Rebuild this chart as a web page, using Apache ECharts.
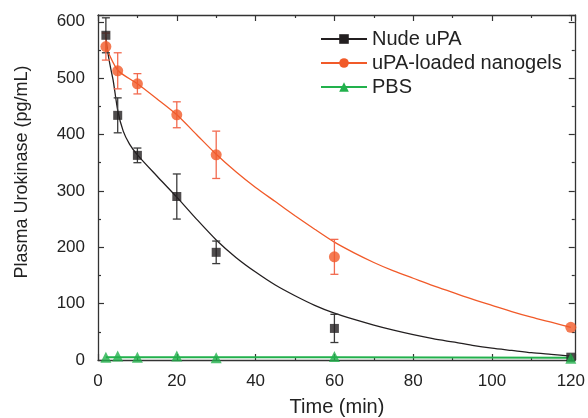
<!DOCTYPE html>
<html>
<head>
<meta charset="utf-8">
<script src="https://cdn.jsdelivr.net/npm/echarts@6/dist/echarts.min.js"></script>
<style>html,body{margin:0;padding:0;background:#fff;}#c{width:588px;height:418px;}</style>
</head>
<body>
<div id="c"></div>
<script>
// Measured points: [time, mean, error]
var nudePoints = [[2,576,31],[5,434,31],[10,363,13],[20,290,40],[30,191,20],[60,56,25],[120,5,0]];
var nanogelPoints = [[2,556,24],[5,513,32],[10,490,18],[20,435,23],[30,364,42],[60,183,31],[120,58,0]];
var pbsPoints = [[2,5],[5,7],[10,5],[20,7],[30,4],[60,6],[120,3]];
// Fitted curves
var nudeFit = [[2,572],[2.6,541],[3.2,518],[3.9,494],[5,443],[6.4,406],[8,383],[10,364],[15,326],[20,289],[25,250],[30,213],[35,182],[40,156],[45,133],[50,114],[55,97],[60,83],[65,72],[70,62],[75,53],[80,45],[85,38],[90,32],[95,26],[100,21],[105,17],[110,13],[115,10],[120,7]];
var nanogelFit = [[2,556],[5,514],[10,490],[15,463],[20,435],[25,400],[30,365],[35,334],[40,306],[45,281],[50,256],[55,232],[60,209],[65,190],[70,173],[75,158],[80,145],[85,132],[90,120],[95,108],[100,97],[105,86],[110,76],[115,67],[120,58]];
var pbsFit = [[2,5],[30,5],[60,5],[120,4]];
var seriesNames = ['Nude uPA','uPA-loaded nanogels','PBS'];
var xTicks = [0,20,40,60,80,100,120];
var yTicks = [0,100,200,300,400,500,600];
var xTitle = 'Time (min)';
var yTitle = 'Plasma Urokinase (pg/mL)';

var BLACK = '#231f20', ORANGE = '#f15a29', GREEN = '#22b14c';
var FONT = '"Liberation Sans", Arial, sans-serif';

function errRender(color){
  return function(params, api){
    var x = api.value(0), m = api.value(1), e = api.value(2);
    if (!e) return null;
    var top = api.coord([x, m + e]);
    var bot = api.coord([x, m - e]);
    var hw = 4;
    var st = {stroke: color, lineWidth: 1.3};
    return {type:'group', children:[
      {type:'line', shape:{x1:top[0],y1:top[1],x2:bot[0],y2:bot[1]}, style:st},
      {type:'line', shape:{x1:top[0]-hw,y1:top[1],x2:top[0]+hw,y2:top[1]}, style:st},
      {type:'line', shape:{x1:bot[0]-hw,y1:bot[1],x2:bot[0]+hw,y2:bot[1]}, style:st}
    ]};
  };
}

var labelFont = {fontFamily:FONT, fontSize:17, color:'#222'};
function axisBase(){
  return {
    axisLine:{show:true, onZero:false, lineStyle:{color:'#333', width:1.3}},
    axisTick:{show:true, inside:true, length:6, lineStyle:{color:'#333', width:1.2}},
    minorTick:{show:true, splitNumber:2, length:3, lineStyle:{color:'#333', width:1.2}},
    splitLine:{show:false},
    minorSplitLine:{show:false}
  };
}

var chart = echarts.init(document.getElementById('c'), null, {renderer:'canvas'});
var xa = axisBase(), xb = axisBase(), ya = axisBase(), yb = axisBase();
Object.assign(xa, {type:'value', min:0, max:121, interval:20, position:'bottom',
  axisLabel:Object.assign({margin:13, formatter:function(v){return xTicks.indexOf(v)>=0 ? String(v) : '';}}, labelFont)});
Object.assign(xb, {type:'value', min:0, max:121, interval:20, position:'top', axisLabel:{show:false}});
Object.assign(ya, {type:'value', min:0, max:612, interval:100, position:'left',
  axisLabel:Object.assign({margin:13, formatter:function(v){return yTicks.indexOf(v)>=0 ? String(v) : '';}}, labelFont)});
Object.assign(yb, {type:'value', min:0, max:612, interval:100, position:'right', axisLabel:{show:false}});

var option = {
  animation:false,
  backgroundColor:'#fff',
  grid:{left:98, right:10, top:15, bottom:58, containLabel:false},
  xAxis:[xa, xb],
  yAxis:[ya, yb],
  legend:{
    data:seriesNames, orient:'vertical', left:320, top:29, padding:0,
    itemWidth:46, itemHeight:12, itemGap:4,
    textStyle:{fontFamily:FONT, fontSize:20, lineHeight:20, color:'#222'},
    selectedMode:false
  },
  graphic:[
    {type:'text', x:337, y:407, style:{text:xTitle, font:'20px ' + FONT, fill:'#222', textAlign:'center', textVerticalAlign:'middle'}},
    {type:'text', rotation:Math.PI/2, x:22, y:172, style:{text:yTitle, font:'18px ' + FONT, fill:'#222', textAlign:'center', textVerticalAlign:'middle'}}
  ],
  series:[
    {name:'Nude uPA', type:'line', data:nudeFit, smooth:0.25, showSymbol:false, symbol:'rect', symbolSize:9,
     lineStyle:{color:BLACK, width:1.3}, itemStyle:{color:BLACK}, z:3},
    {name:'uPA-loaded nanogels', type:'line', data:nanogelFit, smooth:0.25, showSymbol:false, symbol:'circle', symbolSize:11,
     lineStyle:{color:ORANGE, width:1.3}, itemStyle:{color:ORANGE}, z:3},
    {name:'PBS', type:'line', data:pbsFit, smooth:false, showSymbol:false, symbol:'triangle', symbolSize:11,
     lineStyle:{color:GREEN, width:2}, itemStyle:{color:GREEN}, z:3},
    {type:'custom', renderItem:errRender('#3a3a3a'), data:nudePoints, z:4, silent:true},
    {type:'custom', renderItem:errRender('#f26a4f'), data:nanogelPoints, z:4, silent:true},
    {type:'scatter', data:nudePoints.map(function(p){return [p[0],p[1]];}), symbol:'rect', symbolSize:9, itemStyle:{color:BLACK}, z:6},
    {type:'scatter', data:nanogelPoints.map(function(p){return [p[0],p[1]];}), symbol:'circle', symbolSize:11, itemStyle:{color:ORANGE}, z:6},
    {type:'scatter', data:pbsPoints, symbol:'triangle', symbolSize:11, itemStyle:{color:GREEN}, z:7}
  ]
};
chart.setOption(option);
</script>
</body>
</html>
